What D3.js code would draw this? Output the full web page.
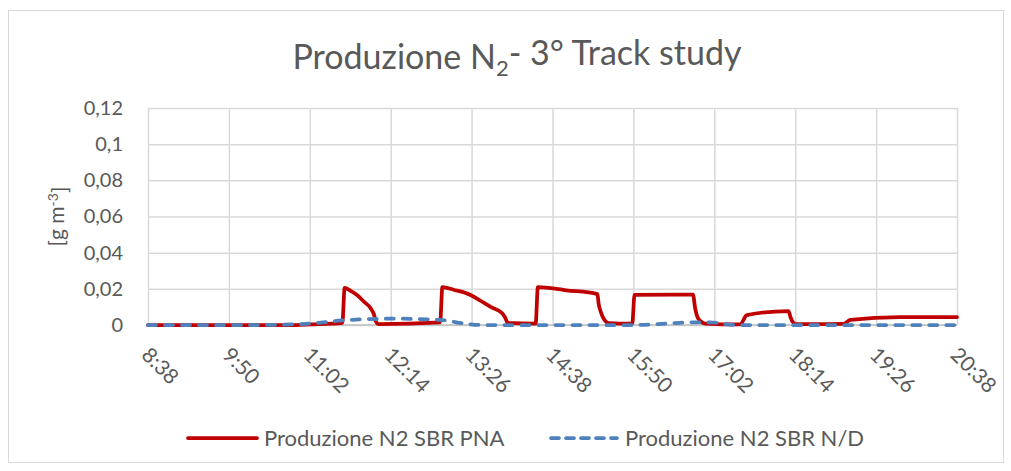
<!DOCTYPE html>
<html>
<head>
<meta charset="utf-8">
<script src="https://cdn.jsdelivr.net/npm/d3@7"></script>
<style>
  body { margin: 0; background: #fff; }
  svg { display: block; }
  text { font-family: Lato, "Open Sans", sans-serif; fill: #595959; }
</style>
</head>
<body>
<svg id="chart" width="1011" height="471"></svg>
<script>
// Axis labels
const xTickLabels = ["8:38", "9:50", "11:02", "12:14", "13:26", "14:38", "15:50", "17:02", "18:14", "19:26", "20:38"];
const yTickValues = [0, 0.02, 0.04, 0.06, 0.08, 0.1, 0.12];

// Series names
const seriesNames = ["Produzione N2 SBR PNA", "Produzione N2 SBR N/D"];

// SBR PNA – N2 production [g m-3]
const pnaTime = ["8:38", "10:50", "11:02", "11:31", "11:33", "11:38", "11:44", "11:50", "11:56", "11:59", "12:01", "12:03",
  "12:58", "13:00", "13:10", "13:25", "13:33", "13:43", "13:53", "13:56", "13:58", "14:23", "14:25", "14:50",
  "15:18", "15:19", "15:21", "15:24", "15:28", "15:49", "15:51", "16:43", "16:45", "16:47", "16:50", "16:54",
  "17:25", "17:31", "18:08", "18:10", "18:12", "18:15", "18:57", "19:03", "19:47", "20:38"];
const pnaValue = [0, 0, 0.0003, 0.0012, 0.0205, 0.019, 0.0166, 0.013, 0.0094, 0.006, 0.0017, 0.0005,
  0.0015, 0.021, 0.0195, 0.0166, 0.0138, 0.01, 0.0066, 0.004, 0.0012, 0.0008, 0.021, 0.0192,
  0.0171, 0.012, 0.0072, 0.003, 0.0011, 0.0008, 0.0166, 0.0168, 0.009, 0.0044, 0.002, 0.0008,
  0.0003, 0.0055, 0.0077, 0.004, 0.0015, 0.0005, 0.0006, 0.0028, 0.0044, 0.0044];

// SBR N/D – N2 production [g m-3]
const ndTime = ["8:38", "10:20", "11:02", "11:30", "12:14", "12:58", "13:22", "13:35", "15:50", "16:20", "16:43", "16:58", "17:20", "20:38"];
const ndValue = [0, 0, 0.0008, 0.0025, 0.0035, 0.0028, 0.0006, 0, 0, 0.0008, 0.0015, 0.0015, 0, 0];

const toMin = s => { const [h, m] = s.split(":").map(Number); return h * 60 + m; };

const svg = d3.select("#chart");
const plot = { left: 148, right: 957, top: 108, bottom: 325 };

// chart frame
svg.append("rect")
  .attr("x", 8.5).attr("y", 10.5)
  .attr("width", 995).attr("height", 452)
  .attr("fill", "#fff").attr("stroke", "#d9d9d9").attr("stroke-width", 1);

const xTickMins = xTickLabels.map(toMin);
const x = d3.scaleLinear()
  .domain([xTickMins[0], xTickMins[xTickMins.length - 1]])
  .range([plot.left, plot.right]);
const y = d3.scaleLinear().domain([0, 0.12]).range([plot.bottom, plot.top]);

const locale = d3.formatLocale({ decimal: ",", thousands: ".", grouping: [3], currency: ["", "€"] });
const yFmt = locale.format("~g");

// horizontal grid + y labels
const yAxis = svg.append("g")
  .attr("transform", `translate(${plot.left},0)`)
  .call(d3.axisLeft(y).tickValues(yTickValues).tickFormat(yFmt)
    .tickSize(-(plot.right - plot.left)).tickPadding(25));
yAxis.select(".domain").remove();
yAxis.selectAll(".tick line").attr("stroke", "#d9d9d9").attr("stroke-width", 1.5);
yAxis.selectAll(".tick text").style("font-size", "20px").attr("fill", "#595959");

// vertical grid + rotated time labels
const labelByMin = new Map(xTickMins.map((m, i) => [m, xTickLabels[i]]));
const xAxis = svg.append("g")
  .attr("transform", `translate(0,${plot.bottom})`)
  .call(d3.axisBottom(x).tickValues(xTickMins).tickFormat(m => labelByMin.get(m))
    .tickSize(-(plot.bottom - plot.top)));
xAxis.select(".domain").remove();
xAxis.selectAll(".tick line").attr("stroke", "#d9d9d9").attr("stroke-width", 1.5);
xAxis.selectAll(".tick text")
  .style("font-size", "21px")
  .attr("fill", "#595959")
  .attr("text-anchor", "start")
  .attr("x", 0).attr("y", 0).attr("dy", "0.75em")
  .attr("transform", "translate(3,20) rotate(45)");

// zero baseline on top of the grid
svg.append("line")
  .attr("x1", plot.left).attr("x2", plot.right)
  .attr("y1", y(0)).attr("y2", y(0))
  .attr("stroke", "#bfbfbf").attr("stroke-width", 1.5);

// y axis title
const yt = svg.append("text")
  .attr("transform", `translate(64,${(plot.top + plot.bottom) / 2}) rotate(-90)`)
  .attr("text-anchor", "middle")
  .style("font-size", "21px");
yt.append("tspan").text("[g m");
yt.append("tspan").attr("dy", "-0.45em").style("font-size", "14px").text("-3");
yt.append("tspan").attr("dy", "0.45em").text("]");

// title
const title = svg.append("text")
  .attr("x", 517).attr("y", 69)
  .attr("text-anchor", "middle")
  .style("font-size", "34px");
title.append("tspan").text("Produzione N");
title.append("tspan").attr("dy", "0.3em").style("font-size", "22px").text("2");
title.append("tspan").attr("dy", "-0.3em").text("- 3° Track study");

// series lines
const line = d3.line()
  .x(d => x(toMin(d.t)))
  .y(d => y(d.v))
  .curve(d3.curveMonotoneX);

const pna = pnaTime.map((t, i) => ({ t, v: pnaValue[i] }));
const nd = ndTime.map((t, i) => ({ t, v: ndValue[i] }));

svg.append("path").datum(pna)
  .attr("d", line)
  .attr("fill", "none").attr("stroke", "#c00000")
  .attr("stroke-width", 3.75).attr("stroke-linejoin", "round").attr("stroke-linecap", "round");

svg.append("path").datum(nd)
  .attr("d", line)
  .attr("fill", "none").attr("stroke", "#4f81bd")
  .attr("stroke-width", 3.75).attr("stroke-dasharray", "8,9")
  .attr("stroke-linejoin", "round").attr("stroke-linecap", "round");

// legend
const legend = svg.append("g");
const legendItems = [
  { name: seriesNames[0], color: "#c00000", dash: null, x1: 188, x2: 257, tx: 264 },
  { name: seriesNames[1], color: "#4f81bd", dash: "8,7", x1: 551, x2: 617, tx: 625 }
];
legendItems.forEach(it => {
  legend.append("line")
    .attr("x1", it.x1).attr("x2", it.x2).attr("y1", 438).attr("y2", 438)
    .attr("stroke", it.color).attr("stroke-width", 3.75)
    .attr("stroke-linecap", "round")
    .attr("stroke-dasharray", it.dash);
  legend.append("text")
    .attr("x", it.tx).attr("y", 438).attr("dy", "0.35em")
    .style("font-size", "22px")
    .text(it.name);
});
</script>
</body>
</html>
